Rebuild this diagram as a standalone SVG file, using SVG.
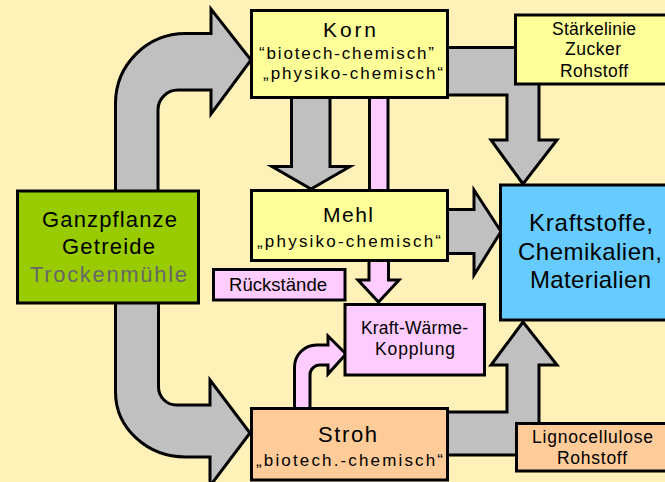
<svg xmlns="http://www.w3.org/2000/svg" width="665" height="482" viewBox="0 0 665 482">
  <style>
    text { font-family: "Liberation Sans", Arial, sans-serif; fill: #000; text-anchor: middle; }
    .box { stroke: #000; stroke-width: 3; }
    .yellow { fill: #FFFF99; }
    .blue { fill: #66CCFF; }
    .green { fill: #99CC00; }
    .rose { fill: #FFCCFF; }
    .peach { fill: #FFCC99; }
    .gray { fill: #C0C0C0; stroke: #000; stroke-width: 3; stroke-linejoin: miter; }
    .pink { fill: #FFCCFF; stroke: #000; stroke-width: 3; stroke-linejoin: miter; }
    .t22 { font-size: 22px; }
    .t21 { font-size: 21px; }
    .t24 { font-size: 24px; }
    .t18 { font-size: 18.5px; }
    .t17 { font-size: 17.5px; }
    .sub { font-size: 17px; }
  </style>

  <!-- background -->
  <rect width="665" height="482" fill="#FFF1B8"/>

  <g id="connectors">
    <!-- whole plant to grain (upper bent arrow) -->
    <path class="gray" d="M 115.5,195 L 115.5,103 A 70,70 0 0 1 185.5,33.5 L 211,33.5 L 211,9 L 251,60 L 211,114 L 211,90 L 178,90 A 20,20 0 0 0 158,110 L 158,195 Z"/>
    <!-- whole plant to straw (lower bent arrow) -->
    <path class="gray" d="M 115.5,298 L 115.5,392 A 70,65 0 0 0 185.5,457 L 210,457 L 210,486 L 250,433 L 210,380 L 210,405 L 176.5,405 A 18,18 0 0 1 158.5,387 L 158.5,298 Z"/>
    <!-- grain to flour -->
    <path class="gray" d="M 291.5,95 L 291.5,166.5 L 272,166.5 L 311,189 L 350,166.5 L 330,166.5 L 330,95 Z"/>
    <!-- grain to products (elbow, passes under starch line box) -->
    <path class="gray" d="M 440,47.5 L 539,47.5 L 539,140 L 557,140 L 523,184 L 491,140 L 507,140 L 507,95 L 440,95 Z"/>
    <!-- flour to products -->
    <path class="gray" d="M 440,209.5 L 474,209.5 L 474,190 L 501,231.5 L 474,275 L 474,253.5 L 440,253.5 Z"/>
    <!-- straw to products (elbow, passes under lignocellulose box) -->
    <path class="gray" d="M 440,412 L 507,412 L 507,365 L 491,365 L 523,322 L 557,365 L 539,365 L 539,455 L 440,455 Z"/>
    <!-- residues line grain - flour - CHP -->
    <rect class="pink" x="369.5" y="95" width="18.5" height="100"/>
    <path class="pink" d="M 369,258 L 369,280 L 358,280 L 378.5,302 L 399,280 L 388.5,280 L 388.5,258 Z"/>
    <!-- straw to CHP -->
    <path class="pink" d="M 294.5,410 L 294.5,367 A 22,22 0 0 1 316.5,345 L 328,345 L 328,336 L 346,354 L 328,374 L 328,365 L 320,365 A 10,10 0 0 0 310,375 L 310,410 Z"/>
  </g>

  <g id="ganzpflanze">
    <rect class="box green" x="17.5" y="191" width="181" height="112" stroke-width="3.5"/>
    <text class="t22" x="109.5" y="227" textLength="135">Ganzpflanze</text>
    <text class="t22" x="108.5" y="254" textLength="93">Getreide</text>
    <text class="t22" x="108.5" y="282" textLength="157" style="fill:#676767">Trockenmühle</text>
  </g>

  <g id="korn">
    <rect class="box yellow" x="251.5" y="10.5" width="196" height="87"/>
    <text class="t21" x="349.5" y="37" textLength="53">Korn</text>
    <text class="sub" x="346.5" y="59" textLength="175">“biotech-chemisch”</text>
    <text class="sub" x="353" y="79" textLength="180">„physiko-chemisch“</text>
  </g>

  <g id="staerkelinie">
    <rect class="box yellow" x="515.5" y="15" width="170" height="69" stroke-width="3.5"/>
    <text class="t17" x="594" y="35" textLength="84">Stärkelinie</text>
    <text class="t17" x="593" y="55" textLength="56">Zucker</text>
    <text class="t17" x="594" y="77" textLength="68">Rohstoff</text>
  </g>

  <g id="mehl">
    <rect class="box yellow" x="251.5" y="190.5" width="196" height="70"/>
    <text class="t21" x="348" y="222" textLength="50">Mehl</text>
    <text class="sub" x="349" y="247" textLength="184">„physiko-chemisch“</text>
  </g>

  <g id="produkte">
    <rect class="box blue" x="500.5" y="185" width="200" height="135" stroke-width="4.5"/>
    <text class="t24" x="591" y="231" textLength="124">Kraftstoffe,</text>
    <text class="t24" x="590" y="260" textLength="144">Chemikalien,</text>
    <text class="t24" x="590.5" y="288" textLength="121">Materialien</text>
  </g>

  <g id="rueckstaende">
    <rect class="box rose" x="213.5" y="269.5" width="131.5" height="30.5"/>
    <text class="t18" x="278" y="291" textLength="98">Rückstände</text>
  </g>

  <g id="kwk">
    <rect class="box rose" x="345" y="304.5" width="139.5" height="70.5" stroke-width="3.5"/>
    <text class="t17" x="414.5" y="334" textLength="107">Kraft-Wärme-</text>
    <text class="t17" x="415" y="354.5" textLength="80">Kopplung</text>
  </g>

  <g id="stroh">
    <rect class="box peach" x="251.5" y="408.5" width="196" height="71.5"/>
    <text class="t22" x="347.5" y="442" textLength="59">Stroh</text>
    <text class="sub" x="349.5" y="466" textLength="187">„biotech.-chemisch“</text>
  </g>

  <g id="lignocellulose">
    <rect class="box peach" x="516.5" y="423.5" width="170" height="47.5" stroke-width="3.5"/>
    <text class="t17" x="592.5" y="443" textLength="121">Lignocellulose</text>
    <text class="t17" x="592" y="463.5" textLength="70">Rohstoff</text>
  </g>
</svg>
